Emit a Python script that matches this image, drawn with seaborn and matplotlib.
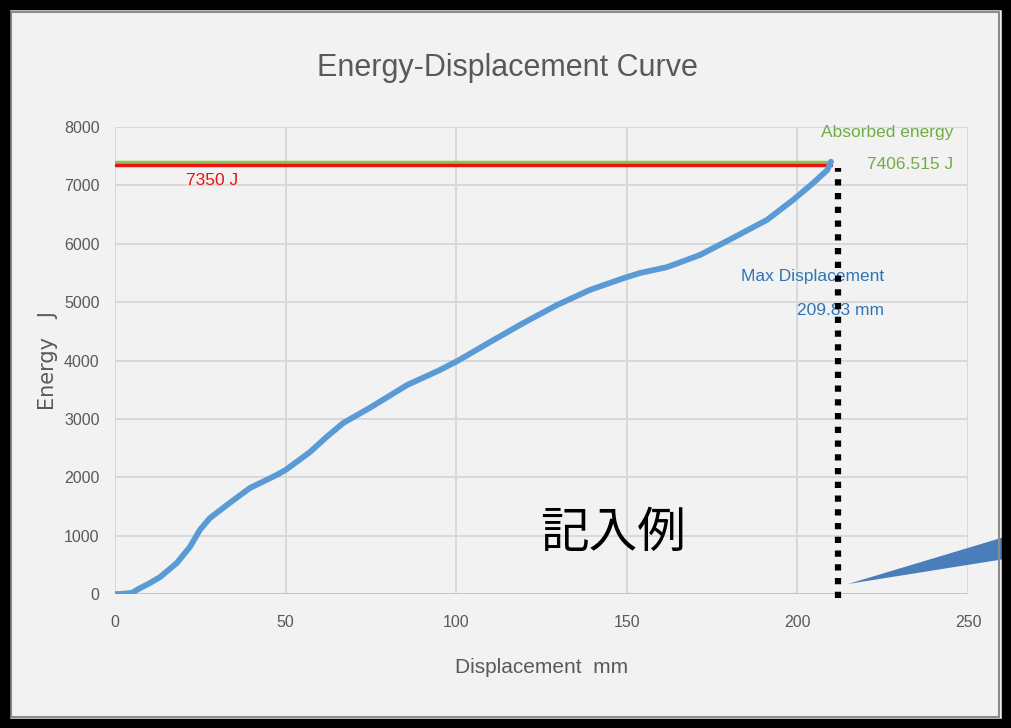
import numpy as np
import pandas as pd
import seaborn as sns
import matplotlib.pyplot as plt
from matplotlib.patches import Rectangle, Polygon

# Energy-displacement curve
displacement = [0, 1.5, 5, 7.3, 10, 13.2, 18.1, 22, 24.9, 27.8, 32.7, 39.5, 47.4, 50,
                57.1, 62, 66.9, 74.7, 85.6, 95.3, 100.6, 110, 119.6, 129.5, 139.2,
                149, 153.9, 161.8, 171.5, 181.1, 191.1, 198.7, 204.6, 208.7, 209.83]
energy = [0, 0, 20, 100, 180, 290, 530, 810, 1100, 1300, 1520, 1815, 2040, 2125,
          2430, 2690, 2930, 3190, 3580, 3840, 4000, 4320, 4640, 4950, 5210,
          5410, 5500, 5600, 5810, 6100, 6410, 6750, 7040, 7260, 7406.515]

target_energy = 7350
absorbed_energy = 7406.515
max_disp = 209.83
marker_x = 212.0

x_ticks = [0, 50, 100, 150, 200, 250]
y_ticks = [0, 1000, 2000, 3000, 4000, 5000, 6000, 7000, 8000]

sns.set_theme(style="whitegrid")
plt.rcParams['font.family'] = ['Liberation Sans', 'DejaVu Sans']

bg = "#f2f2f2"
grey_txt = "#595959"
fig = plt.figure(figsize=(10.11, 7.28), dpi=100, facecolor=bg)
ax = fig.add_axes([0.1137, 0.184, 0.8438, 0.6415], facecolor=bg)

df = pd.DataFrame({"disp": displacement, "energy": energy})
sns.lineplot(data=df, x="disp", y="energy", ax=ax, color="#5b9bd5", lw=4.2,
             sort=False, estimator=None, zorder=4)

sns.lineplot(x=[0, max_disp], y=[absorbed_energy] * 2, ax=ax, color="#8cc34a", lw=2.5,
             estimator=None, zorder=3)
sns.lineplot(x=[0, max_disp], y=[target_energy] * 2, ax=ax, color="#ee1111", lw=2.5,
             estimator=None, zorder=3)
ax.vlines(marker_x, -60, 7300, colors="black", lw=4.5, linestyles=(0, (1, 1.2)),
          zorder=5, clip_on=False)

ax.set_xlim(0, 250)
ax.set_ylim(0, 8000)
ax.set_xticks(x_ticks)
ax.set_yticks(y_ticks)
ax.grid(color="#d9d9d9", lw=1.4)
for s in ax.spines.values():
    s.set_visible(False)
ax.axhline(0, color="#bfbfbf", lw=1.8, zorder=2)
ax.tick_params(axis="both", length=0, labelsize=11.5, labelcolor=grey_txt)
ax.tick_params(axis="x", pad=15)
ax.tick_params(axis="y", pad=11)

ax.set_xlabel("Displacement  mm", fontsize=15, color=grey_txt, labelpad=20)
ax.set_ylabel("Energy   J", fontsize=15, color=grey_txt, family=["DejaVu Sans"], labelpad=4)
fig.text(0.502, 0.907, "Energy-Displacement Curve", fontsize=22, color=grey_txt,
         ha="center", va="center")

ax.text(245.6, 7900, "Absorbed energy", color="#70ad47", fontsize=12.5, ha="right", va="center")
ax.text(245.6, 7350, "7406.515 J", color="#70ad47", fontsize=12.5, ha="right", va="center")
ax.text(28.4, 7090, "7350 J", color="#ee1111", fontsize=12.5, ha="center", va="center")
ax.text(225.4, 5440, "Max Displacement", color="#2e75b6", fontsize=12.5, ha="right", va="center")
ax.text(225.4, 4860, "209.83 mm", color="#2e75b6", fontsize=12.5, ha="right", va="center")

fig.text(0.606, 0.268, "記入例", fontsize=35, color="black", ha="center", va="center",
         family=["Noto Sans CJK JP", "DejaVu Sans"])

# callout wedge toward the dotted line
W, H = 1011, 728
fig.patches.append(Polygon([(848 / W, 1 - 584 / H), (1011 / W, 1 - 535 / H), (1011 / W, 1 - 558 / H)],
                           closed=True, transform=fig.transFigure, facecolor="#4a7ebb",
                           edgecolor="none", zorder=5))

# frame
fig.patches.append(Rectangle((11 / W, 1 - 717 / H), 988 / W, 705 / H, transform=fig.transFigure,
                             fill=False, edgecolor="#8c8c8c", lw=1.5, zorder=6))
fig.patches.append(Rectangle((0, 0), 1, 1, transform=fig.transFigure, fill=False,
                             edgecolor="black", lw=14, zorder=7))

fig.savefig("out.png", dpi=100, facecolor=bg)
